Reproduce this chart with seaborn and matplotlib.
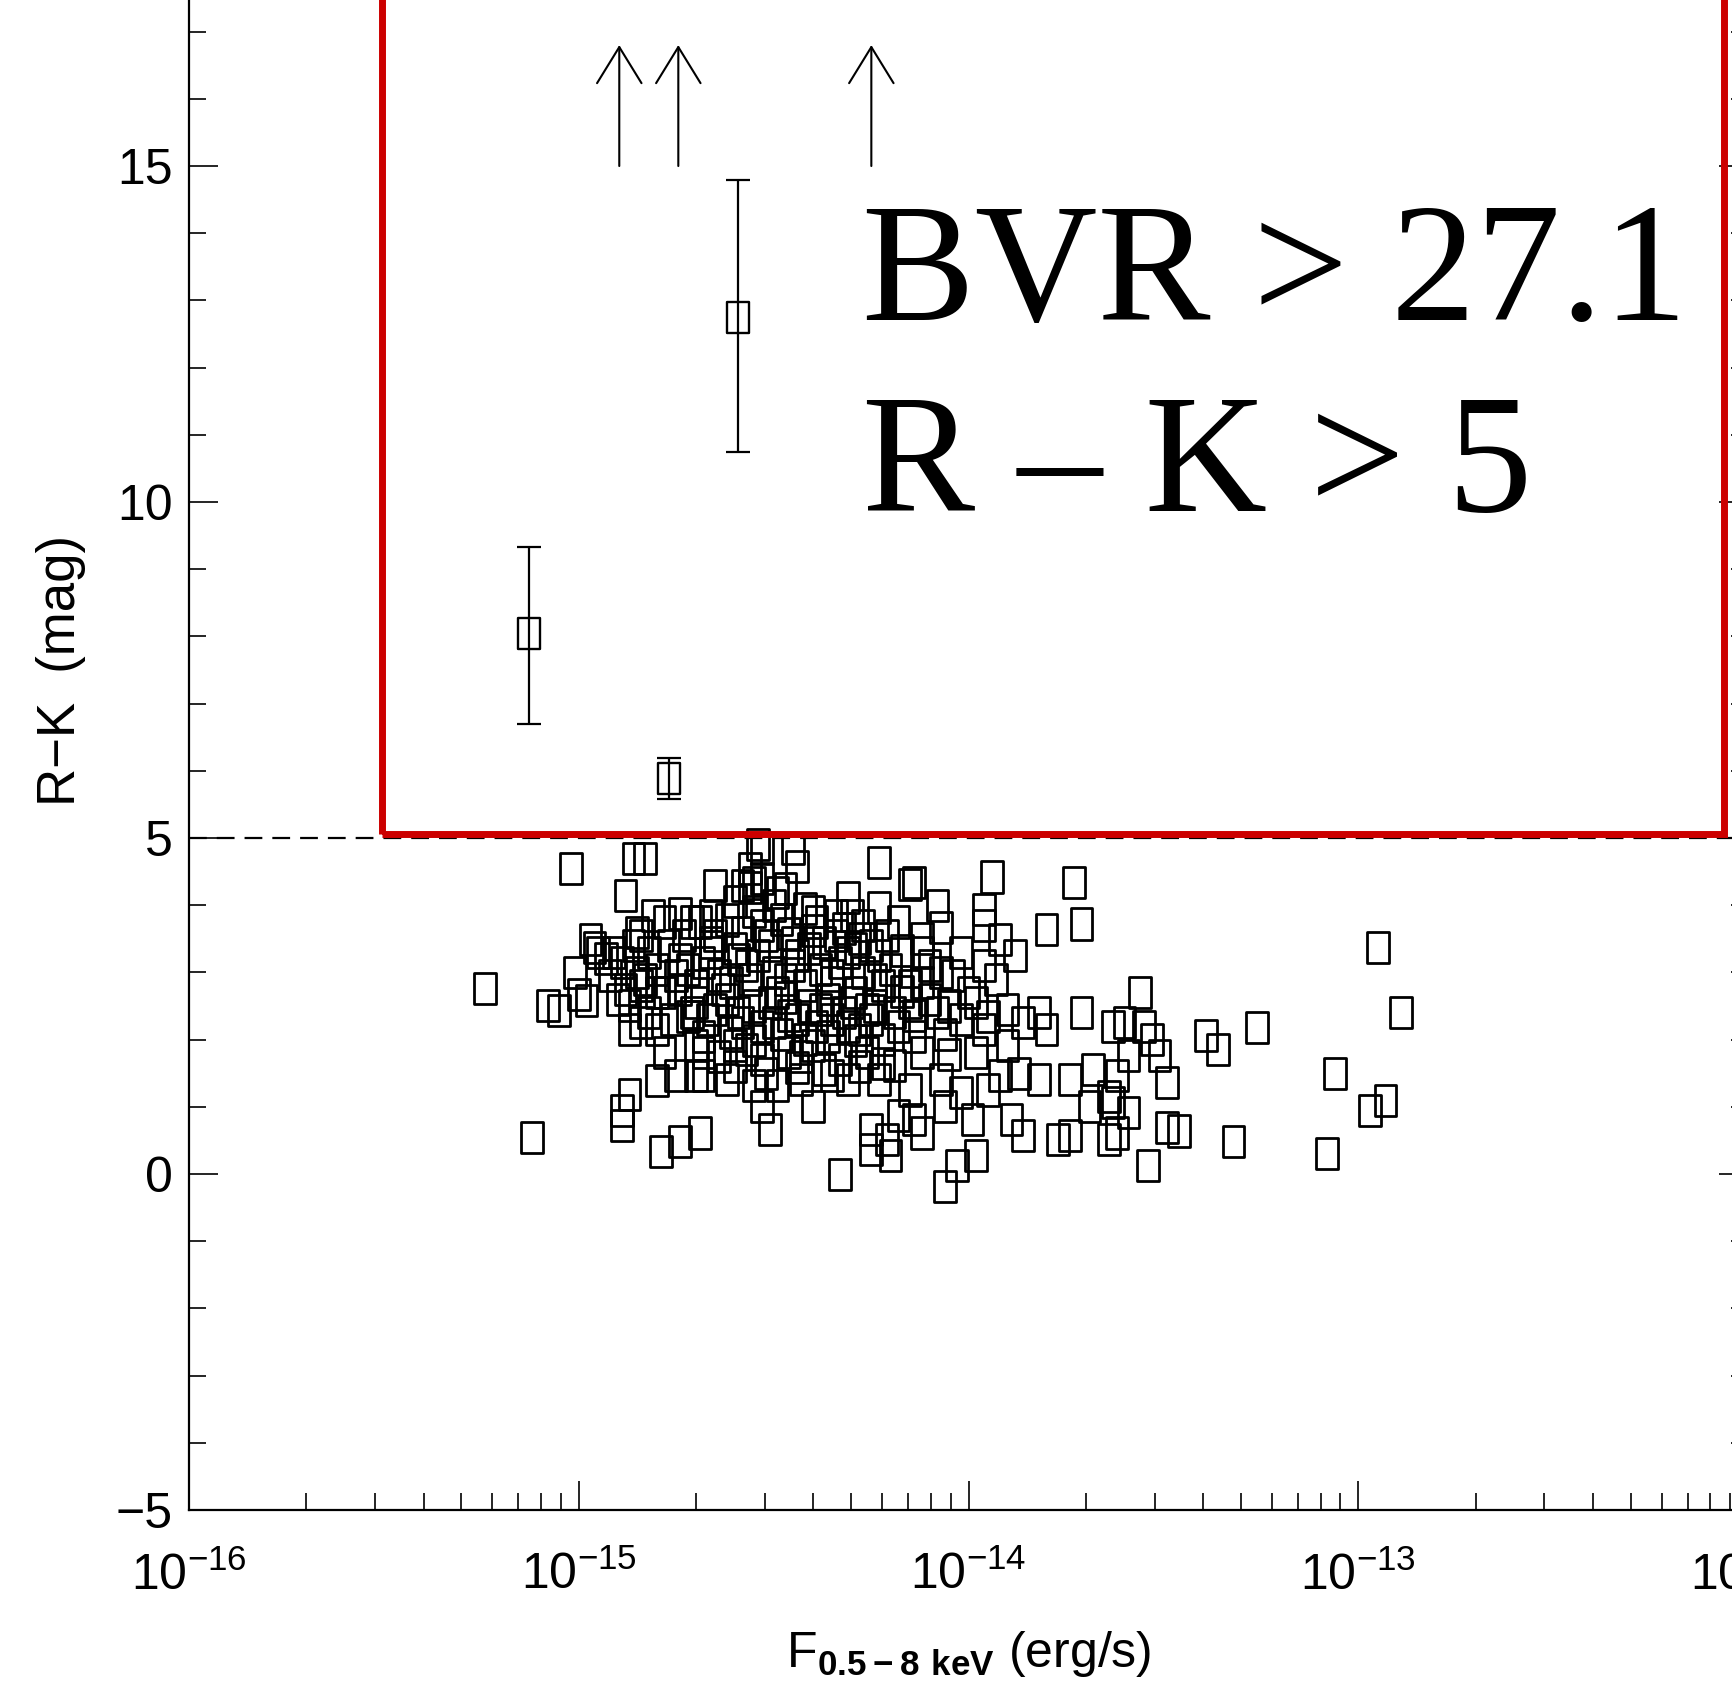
import numpy as np
import matplotlib
matplotlib.use("Agg")
import matplotlib.pyplot as plt
from matplotlib.path import Path
from matplotlib.patches import Rectangle
from matplotlib.ticker import MultipleLocator, LogLocator, NullFormatter
import seaborn as sns

sns.set_theme(style="ticks")
plt.rcParams["font.family"] = ["Liberation Sans", "DejaVu Sans"]
plt.rcParams["mathtext.fontset"] = "custom"
plt.rcParams["mathtext.rm"] = "Liberation Sans"
plt.rcParams["mathtext.bf"] = "Liberation Sans:bold"
for key in ["text.color", "axes.labelcolor", "xtick.color", "ytick.color", "axes.edgecolor"]:
    plt.rcParams[key] = "black"

# X-ray detected sources: log10 of 0.5-8 keV flux and R-K colour
cloud_log_flux = [
    # faint side
    -15.02, -14.86, -14.83, -14.88, -15.24, -15.12, -14.97, -14.96, -15.01, -15.08,
    -15.05, -15.00, -14.98, -14.87, -14.89, -14.89, -14.79, -14.74, -14.80, -14.75,
    -14.78, -14.87, -14.87, -14.74, -14.71, -14.78, -14.91, -14.89, -14.84, -14.82,
    -14.85, -14.80, -14.77, -14.74, -14.78, -14.74, -14.82, -14.76, -14.71, -14.70,
    -14.70, -14.84, -14.80,
    # core
    -14.54, -14.53, -14.45, -14.44, -14.23, -14.65, -14.58, -14.56, -14.55, -14.49,
    -14.31, -14.23, -14.15, -14.69, -14.62, -14.55, -14.48, -14.40, -14.34, -14.27,
    -14.18, -14.66, -14.59, -14.51, -14.44, -14.37, -14.31, -14.23, -14.17, -14.70,
    -14.63, -14.56, -14.49, -14.42, -14.35, -14.29, -14.22, -14.17, -14.67, -14.59,
    -14.53, -14.46, -14.39, -14.32, -14.25, -14.18, -14.68, -14.60, -14.53, -14.46,
    -14.40, -14.33, -14.26, -14.19, -14.68, -14.62, -14.55, -14.49, -14.43, -14.35,
    -14.31, -14.23, -14.53, -14.51, -14.40, -14.69, -14.25, -14.25, -14.20, -14.33,
    -14.21, -14.18,
    # core, second layer
    -14.72, -14.64, -14.57, -14.50, -14.45, -14.38, -14.33, -14.27, -14.20, -14.70,
    -14.62, -14.55, -14.47, -14.41, -14.36, -14.30, -14.24, -14.15, -14.10, -14.68,
    -14.61, -14.55, -14.48, -14.42, -14.36, -14.29, -14.22, -14.14, -14.06, -14.73,
    -14.65, -14.58, -14.52, -14.46, -14.40, -14.34, -14.28, -14.21, -14.12, -14.83,
    -14.80, -14.86, -14.93, -14.90, -14.84, -14.60, -14.52, -14.44, -14.37, -14.28,
    -14.22, -14.66, -14.60, -14.50, -14.42, -14.30, -14.56, -14.53, -14.47, -14.10,
    -14.04, -13.98, -14.05, -13.95, -14.12, -13.90, -13.86,
    # core, third layer
    -14.75, -14.68, -14.61, -14.54, -14.47, -14.41, -14.35, -14.29, -14.24, -14.72,
    -14.65, -14.58, -14.51, -14.44, -14.38, -14.31, -14.26, -14.19, -14.64, -14.57,
    -14.50, -14.43, -14.35, -14.28, -14.66, -14.60, -14.53, -14.45, -14.39, -14.32,
    -14.25, -14.95, -14.92, -14.88, -14.85, -14.81,
    # brighter side
    -13.94, -14.14, -13.73, -14.08, -13.96, -13.80, -13.71, -13.96, -14.07, -13.88,
    -13.92, -13.96, -14.02, -14.12, -14.07, -13.93, -14.15, -14.00, -14.14, -14.08,
    -14.02, -13.96, -13.82, -13.80, -13.71, -13.63, -13.90, -14.12, -14.05, -13.98,
    -13.92, -13.87, -13.82, -13.74, -13.68, -13.64, -14.15, -14.07, -14.02, -13.95,
    -14.14, -14.06, -13.99, -13.89, -13.86, -13.77, -13.74, -13.69, -13.64, -13.98,
    -14.03, -14.06, -14.12,
    # brightest
    -12.95, -12.89, -13.06, -12.97, -12.93, -13.08, -13.26, -13.39, -13.36, -13.32,
    -13.56, -13.60, -13.55, -13.53, -13.51, -13.59, -13.49, -13.62, -13.59, -13.62,
    -13.49, -13.46, -13.54, -13.63,
]
cloud_rk = [
    # faint side
    4.55, 4.69, 4.69, 4.15, 2.76, 0.54, 3.49, 3.37, 3.00, 2.51,
    2.43, 2.67, 2.58, 1.18, 0.94, 0.72, 0.34, 0.49, 1.39, 1.46,
    1.81, 2.15, 2.51, 3.87, 3.75, 3.75, 3.30, 3.15, 3.55, 3.30,
    3.00, 3.04, 3.40, 3.19, 2.70, 2.75, 2.40, 2.30, 2.40, 1.91,
    1.46, 2.81, 2.15,
    # core
    4.90, 4.84, 4.84, 4.57, 4.64, 4.30, 4.30, 4.27, 4.33, 4.19,
    4.12, 3.97, 4.31, 3.75, 3.78, 3.90, 3.79, 3.90, 3.85, 3.70,
    3.75, 3.30, 3.19, 3.40, 3.25, 3.45, 3.30, 3.25, 3.33, 2.81,
    2.75, 2.90, 2.70, 2.81, 2.85, 2.70, 2.81, 2.72, 2.30, 2.40,
    2.19, 2.36, 2.19, 2.40, 2.30, 2.19, 1.81, 1.91, 1.70, 1.81,
    1.91, 1.70, 1.81, 1.61, 1.46, 1.40, 1.31, 1.31, 1.40, 1.46,
    1.40, 1.40, 1.01, 0.66, 1.01, 0.61, 0.66, 0.36, 0.27, -0.01,
    0.51, 0.87,
    # core, second layer
    3.05, 2.95, 3.10, 3.00, 3.10, 3.05, 3.15, 3.00, 3.05, 2.55,
    2.60, 2.50, 2.62, 2.50, 2.60, 2.55, 2.50, 2.55, 2.60, 2.05,
    2.10, 1.98, 2.08, 2.00, 2.05, 1.98, 2.00, 2.05, 2.08, 3.55,
    3.55, 3.60, 3.55, 3.58, 3.62, 3.55, 3.50, 3.55, 3.50, 2.90,
    2.70, 3.40, 3.20, 2.60, 2.25, 1.60, 1.50, 1.58, 1.55, 1.60,
    1.65, 3.85, 4.05, 4.00, 3.95, 3.85, 4.55, 4.40, 4.25, 3.10,
    2.95, 2.55, 2.50, 2.35, 2.85, 2.45, 2.25,
    # core, third layer
    2.95, 3.15, 2.85, 3.25, 2.90, 3.35, 2.95, 3.35, 2.90, 2.35,
    2.45, 2.25, 2.55, 2.30, 2.45, 2.20, 2.45, 2.40, 1.75, 1.85,
    2.25, 1.75, 2.30, 2.15, 3.45, 3.35, 3.70, 3.45, 3.75, 3.65,
    3.40, 3.30, 2.95, 2.75, 3.60, 3.85,
    # brighter side
    4.42, 4.34, 4.34, 4.00, 3.94, 3.64, 3.72, 3.70, 3.67, 3.25,
    3.49, 3.10, 3.30, 3.30, 3.00, 2.90, 2.81, 2.70, 2.36, 2.40,
    2.30, 2.15, 2.40, 2.15, 2.40, 2.19, 1.91, 1.81, 1.78, 1.81,
    1.46, 1.49, 1.40, 1.40, 1.55, 1.16, 1.25, 1.40, 1.21, 1.25,
    0.81, 1.01, 0.81, 0.81, 0.57, 0.51, 0.57, 1.01, 0.51, 0.27,
    0.12, -0.18, 0.61,
    # brightest
    3.37, 2.40, 1.49, 0.94, 1.09, 0.31, 2.18, 2.06, 1.85, 0.49,
    2.70, 2.25, 2.19, 2.00, 1.76, 1.76, 1.36, 1.46, 0.91, 0.61,
    0.69, 0.64, 0.13, 1.07,
]

# sources with R-K > 5 and error bars
err_flux = [7.45e-16, 1.70e-15, 2.56e-15]
err_rk = [8.05, 5.88, 12.75]
err_lo = [1.35, 0.30, 2.00]
err_hi = [1.28, 0.31, 2.04]

# lower limits on R-K
limit_flux = [1.27e-15, 1.80e-15, 5.63e-15]
limit_base = 15.0
limit_tip = 16.8

# selection box
box_flux = (3.13e-16, 8.69e-13)
box_rk = (5.06, 20.0)

fig = plt.figure(figsize=(17.33, 16.93), dpi=100)
ax = fig.add_axes([0.1091, 0.1081, 0.8996, 0.9923])

# tall open rectangle, like the squashed squares of the original
rect = Path([(-0.35, -0.5), (0.35, -0.5), (0.35, 0.5), (-0.35, 0.5), (-0.35, -0.5)], closed=True)

sns.scatterplot(x=10 ** np.array(cloud_log_flux), y=cloud_rk, marker=rect, s=500,
                color="black", facecolor="none", edgecolor="black", linewidth=2.0, ax=ax, zorder=3)
sns.scatterplot(x=err_flux, y=err_rk, marker=rect, s=500,
                color="black", facecolor="none", edgecolor="black", linewidth=1.7, ax=ax, zorder=3)
ax.errorbar(err_flux, err_rk, yerr=[err_lo, err_hi], fmt="none", ecolor="black",
            elinewidth=1.6, capsize=8.5, capthick=1.6, zorder=2)

for xf in limit_flux:
    ax.annotate("", xy=(xf, limit_tip), xytext=(xf, limit_base),
                arrowprops=dict(arrowstyle="->,head_length=1.3,head_width=0.8", lw=1.5,
                                color="black", shrinkA=0, shrinkB=0, mutation_scale=20))

ax.axhline(5, color="black", lw=1.6, dashes=(8, 4.5), zorder=1)

ax.add_patch(Rectangle((box_flux[0], box_rk[0]), box_flux[1] - box_flux[0], box_rk[1] - box_rk[0],
                       fill=False, edgecolor="#cc0000", lw=5, joinstyle="miter", zorder=5))

ax.set_xscale("log")
ax.set_xlim(1e-16, 1e-12)
ax.set_ylim(-5, 20)
ax.yaxis.set_major_locator(MultipleLocator(5))
ax.yaxis.set_minor_locator(MultipleLocator(1))
ax.xaxis.set_major_locator(LogLocator(base=10, numticks=10))
ax.xaxis.set_minor_locator(LogLocator(base=10, subs=np.arange(2, 10), numticks=10))
ax.xaxis.set_minor_formatter(NullFormatter())

ax.tick_params(which="both", direction="in", top=True, right=True, width=1.2, colors="black")
ax.tick_params(which="major", length=21, labelsize=36)
ax.tick_params(which="minor", length=12)
ax.tick_params(axis="x", which="major", pad=30)
ax.tick_params(axis="y", which="major", pad=12)
for sp in ax.spines.values():
    sp.set_linewidth(1.6)
    sp.set_color("black")

ax.set_xlabel(r"F$_{\mathbf{0.5-8\ keV}}$ (erg/s)", fontsize=36, va="top")
ax.set_ylabel("R\u2212K  (mag)", fontsize=38)
ax.xaxis.set_label_coords(0.5, -0.071)
ax.yaxis.set_label_coords(-0.066, 0.5)

fig.text(0.4974, 0.8107, "BVR > 27.1", family=["Liberation Serif"], fontsize=122,
         color="black", va="baseline", ha="left")
fig.text(0.4974, 0.6984, "R \u2013 K > 5", family=["Liberation Serif"], fontsize=122,
         color="black", va="baseline", ha="left")

fig.savefig("out.png", dpi=100)
